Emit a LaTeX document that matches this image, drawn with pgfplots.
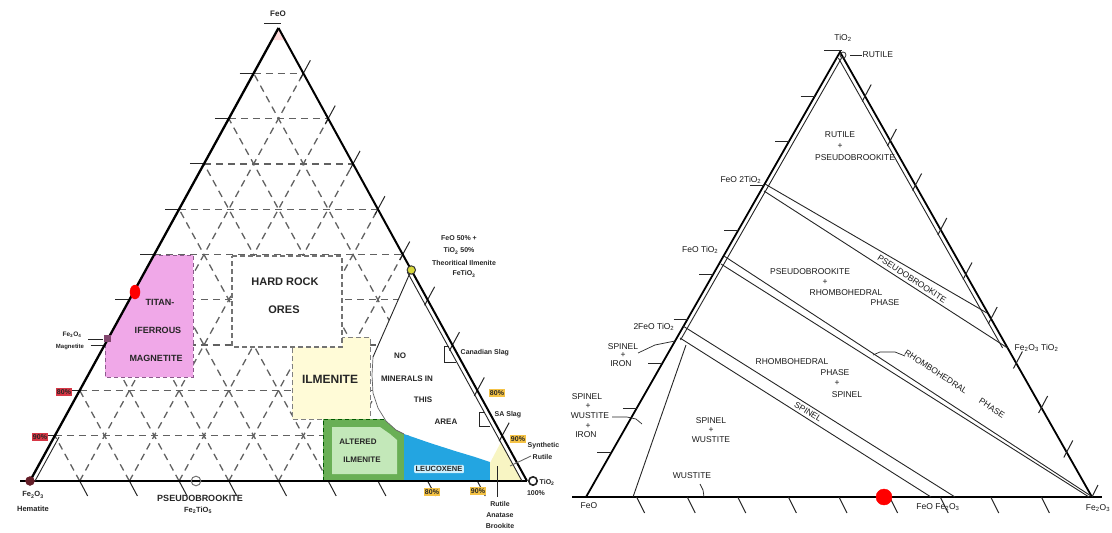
\documentclass[border=0pt]{standalone}
\usepackage{pgfplots}
\pgfplotsset{compat=1.18}
\usepackage{fontspec}
\setmainfont{Liberation Sans}
\definecolor{pinkfill}{RGB}{240,168,232}
\definecolor{pinkedge}{RGB}{140,90,140}
\definecolor{greenout}{RGB}{105,175,85}
\definecolor{greenin}{RGB}{195,232,185}
\definecolor{bluefill}{RGB}{35,165,225}
\definecolor{ilmfill}{RGB}{255,251,215}
\definecolor{synfill}{RGB}{248,245,195}
\definecolor{ylbl}{RGB}{245,195,70}
\definecolor{rlbl}{RGB}{215,55,70}
\definecolor{hemcol}{RGB}{100,30,40}
\definecolor{magcol}{RGB}{130,70,110}
\definecolor{ilmpt}{RGB}{215,215,60}
\newcommand\fs[1]{\fontsize{#1}{#1}\selectfont}
\tikzset{
  gd/.style={draw=black!62, dash pattern=on 7pt off 5pt, line width=1.3pt, mark=none},
  tk/.style={draw=black!85, line width=1pt, mark=none},
  ed/.style={draw=black, line width=2pt, mark=none},
  ln/.style={draw=black!85, line width=0.9pt, mark=none},
  bl/.style={font=\fs{7}\bfseries, text=black!85, inner sep=0.5pt},
  rl/.style={font=\fs{8.5}, text=black!90, inner sep=0.5pt},
}
\begin{document}
\begin{tikzpicture}
\begin{axis}[hide axis, scale only axis, width=1112pt, height=533pt,
  xmin=0, xmax=1112, ymin=0, ymax=533, y dir=reverse, clip=false, unbounded coords=jump]

% ---------- LEFT TRIANGLE: dashed grid ----------
\addplot[gd] coordinates {(54.85,435.7) (502.15,435.7) (nan,nan) (79.7,390.4) (477.3,390.4) (nan,nan)
 (104.55,345.1) (452.45,345.1) (nan,nan) (129.4,299.8) (427.6,299.8) (nan,nan)
 (154.25,254.5) (402.75,254.5) (nan,nan) (179.1,209.2) (377.9,209.2) (nan,nan)
 (203.95,163.9) (353.05,163.9) (nan,nan) (228.8,118.6) (328.2,118.6) (nan,nan)
 (253.65,73.3) (303.35,73.3)};
\addplot[gd] coordinates {(79.7,481) (54.85,435.7) (nan,nan) (129.4,481) (79.7,390.4) (nan,nan)
 (179.1,481) (104.55,345.1) (nan,nan) (228.8,481) (129.4,299.8) (nan,nan)
 (278.5,481) (154.25,254.5) (nan,nan) (328.2,481) (179.1,209.2) (nan,nan)
 (377.9,481) (203.95,163.9) (nan,nan) (427.6,481) (228.8,118.6) (nan,nan)
 (477.3,481) (253.65,73.3)};
\addplot[gd] coordinates {(79.7,481) (303.35,73.3) (nan,nan) (129.4,481) (328.2,118.6) (nan,nan)
 (179.1,481) (353.05,163.9) (nan,nan) (228.8,481) (377.9,209.2) (nan,nan)
 (278.5,481) (402.75,254.5) (nan,nan) (328.2,481) (427.6,299.8) (nan,nan)
 (377.9,481) (452.45,345.1) (nan,nan) (427.6,481) (477.3,390.4) (nan,nan)
 (477.3,481) (502.15,435.7)};

% ---------- coloured fields ----------
\addplot[fill=white, draw=none, mark=none] coordinates {(411.3,270) (373,357) (372,375) (373,393) (378,408) (386,421) (396,430) (404,434) (430,443) (455,451) (475,457) (490,462) (510,450) (411.3,270)};
\addplot[fill=pinkfill, draw=none, mark=none] coordinates {(105,377) (105,344) (154,255) (193,255) (193,377) (105,377)};
\addplot[draw=pinkedge, dash pattern=on 4pt off 3pt, line width=1pt, mark=none] coordinates {(105,344) (105,377) (193,377) (193,255) (154,255)};
\addplot[fill=ilmfill, draw=black!50, dash pattern=on 5pt off 3pt, line width=1pt, mark=none] coordinates {(292,337) (370,337) (370,419) (292,419) (292,337)};
\addplot[fill=white, draw=black!55, dash pattern=on 5pt off 3pt, line width=1.1pt, mark=none] coordinates {(232,256) (342,256) (342,347) (232,347) (232,256)};
\addplot[fill=greenout, draw=none, mark=none] coordinates {(323,419) (384,419) (386,421) (396,430) (404,434) (404,481) (323,481) (323,419)};
\addplot[fill=greenin, draw=none, mark=none] coordinates {(332,427) (380,427) (390,434) (397,440) (397,474) (332,474) (332,427)};
\addplot[draw=green!35!black, dash pattern=on 4pt off 3pt, line width=1pt, mark=none] coordinates {(323,481) (323,419) (384,419)};
\addplot[fill=bluefill, draw=none, mark=none] coordinates {(404,434) (430,443) (455,451) (475,457) (490,462) (490,481) (404,481) (404,434)};
\addplot[fill=synfill, draw=none, mark=none] coordinates {(490,463) (501,442) (522,481) (490,481) (490,463)};
\addplot[fill=pink!60, draw=none, mark=none] coordinates {(278.5,28) (272,40) (285,40) (278.5,28)};

% ---------- left triangle edges, ticks ----------
\addplot[tk] coordinates {(40.85,435.7) (54.85,435.7) (nan,nan) (65.7,390.4) (79.7,390.4) (nan,nan)
 (90.55,345.1) (104.55,345.1) (nan,nan) (115.4,299.8) (129.4,299.8) (nan,nan)
 (140.25,254.5) (154.25,254.5) (nan,nan) (165.1,209.2) (179.1,209.2) (nan,nan)
 (189.95,163.9) (203.95,163.9) (nan,nan) (214.8,118.6) (228.8,118.6) (nan,nan)
 (239.65,73.3) (253.65,73.3) (nan,nan) (264,23) (281,23)};
\addplot[tk] coordinates {(79.7,481) (87.7,496) (nan,nan) (129.4,481) (137.4,496) (nan,nan)
 (179.1,481) (187.1,496) (nan,nan) (228.8,481) (236.8,496) (nan,nan)
 (278.5,481) (286.5,496) (nan,nan) (328.2,481) (336.2,496) (nan,nan)
 (377.9,481) (385.9,496) (nan,nan) (427.6,481) (435.6,496) (nan,nan)
 (477.3,481) (485.3,496)};
\addplot[tk] coordinates {(300.35,78.8) (310.35,60.3) (nan,nan) (325.2,124.1) (335.2,105.6) (nan,nan)
 (350.05,169.4) (360.05,150.9) (nan,nan) (374.9,214.7) (384.9,196.2) (nan,nan)
 (399.75,260) (409.75,241.5) (nan,nan) (424.6,305.3) (434.6,286.8) (nan,nan)
 (449.45,350.6) (459.45,332.1) (nan,nan) (474.3,395.9) (484.3,377.4) (nan,nan)
 (499.15,441.2) (509.15,422.7)};
\addplot[ed, line width=2.3pt] coordinates {(30,481) (278.5,28)};
\addplot[ed] coordinates {(278.5,28) (527,481)};
\addplot[ed, line width=2.2pt] coordinates {(20,481) (527,481)};
\addplot[ln] coordinates {(35,481) (59.1,437)};
\addplot[ln] coordinates {(407.3,272) (522,481)};
\addplot[ln] coordinates {(411.3,270) (373,357)};
\addplot[draw=black!60, line width=0.7pt, mark=none] coordinates {(373,357) (372,375) (373,393) (378,408) (386,421) (396,430) (404,434)};
% slag squares and leaders
\addplot[ln] coordinates {(449,346) (444,346) (444,362) (456,362)};
\addplot[ln] coordinates {(485,412) (479,412) (479,426) (490,426)};
\addplot[ln, draw=black!60] coordinates {(531,456) (510,466)};
\addplot[ln] coordinates {(497,466) (497,497)};
\addplot[ln] coordinates {(88,339) (103,339)};

% ---------- left markers ----------
\addplot[only marks, mark=*, mark size=4.2pt, mark options={fill=ilmpt, draw=black!80, line width=1pt}] coordinates {(411.3,270)};
\addplot[only marks, mark=o, mark size=4.2pt, mark options={draw=black!85, line width=1.6pt}] coordinates {(533,481)};
\addplot[only marks, mark=o, mark size=4.8pt, mark options={draw=black!55, line width=1pt}] coordinates {(196,481)};
\addplot[only marks, mark=*, mark size=4.5pt, color=hemcol] coordinates {(30,481)};
\addplot[only marks, mark=square*, mark size=3pt, color=magcol] coordinates {(107,338)};
\addplot[only marks, mark=*, mark size=7pt, color=red, mark options={xscale=0.72}] coordinates {(135,292)};

% ---------- left labels ----------
\node[bl, font=\fs{8}\bfseries] at (axis cs:278,14) {FeO};
\node[bl] at (axis cs:459,238) {FeO 50\% +};
\node[bl] at (axis cs:459,251) {TiO\textsubscript{2} 50\%};
\node[bl] at (axis cs:464,263) {Theoritical Ilmenite};
\node[bl] at (axis cs:464,274) {FeTiO\textsubscript{3}};
\node[bl, font=\fs{11}\bfseries] at (axis cs:285,282) {HARD ROCK};
\node[bl, font=\fs{11}\bfseries] at (axis cs:284,310) {ORES};
\node[bl, font=\fs{9}\bfseries] at (axis cs:160,302) {TITAN-};
\node[bl, font=\fs{9}\bfseries] at (axis cs:158,330) {IFERROUS};
\node[bl, font=\fs{9}\bfseries] at (axis cs:156,358) {MAGNETITE};
\node[bl, font=\fs{6.5}\bfseries] at (axis cs:72,335) {Fe\textsubscript{3}O\textsubscript{4}};
\node[bl, font=\fs{6}\bfseries] at (axis cs:70,347) {Magnetite};
\node[bl, fill=rlbl, inner sep=1.2pt] at (axis cs:64,392) {80\%};
\node[bl, fill=rlbl, inner sep=1.2pt] at (axis cs:40,437) {90\%};
\node[bl, font=\fs{12}\bfseries] at (axis cs:330,379) {ILMENITE};
\node[bl, font=\fs{8}\bfseries] at (axis cs:400,356) {NO};
\node[bl, font=\fs{8}\bfseries] at (axis cs:407,379) {MINERALS IN};
\node[bl, font=\fs{8}\bfseries] at (axis cs:423,400) {THIS};
\node[bl, font=\fs{8}\bfseries] at (axis cs:446,422) {AREA};
\node[bl, anchor=west] at (axis cs:460,353) {Canadian Slag};
\node[bl, fill=ylbl, inner sep=1.2pt] at (axis cs:497,393) {80\%};
\node[bl, anchor=west] at (axis cs:494,415) {SA Slag};
\node[bl, fill=ylbl, inner sep=1.2pt] at (axis cs:518,439) {90\%};
\node[bl, anchor=west] at (axis cs:527,446) {Synthetic};
\node[bl, anchor=west] at (axis cs:532,457) {Rutile};
\node[bl, font=\fs{8}\bfseries] at (axis cs:358,442) {ALTERED};
\node[bl, font=\fs{8}\bfseries] at (axis cs:362,460) {ILMENITE};
\node[bl, font=\fs{7.5}\bfseries, fill=white!80!cyan, rounded corners=1pt, inner sep=1.5pt] at (axis cs:439,469) {LEUCOXENE};
\node[bl, anchor=west] at (axis cs:539,482) {TiO\textsubscript{2}};
\node[bl] at (axis cs:536,493) {100\%};
\node[bl, fill=ylbl, inner sep=1.2pt] at (axis cs:432,492) {80\%};
\node[bl, fill=ylbl, inner sep=1.2pt] at (axis cs:478,491) {90\%};
\node[bl] at (axis cs:500,504) {Rutile};
\node[bl] at (axis cs:500,515) {Anatase};
\node[bl] at (axis cs:500,526) {Brookite};
\node[bl, font=\fs{9}\bfseries] at (axis cs:200,498) {PSEUDOBROOKITE};
\node[bl, font=\fs{7.5}\bfseries] at (axis cs:198,510) {Fe\textsubscript{2}TiO\textsubscript{5}};
\node[bl, font=\fs{7.5}\bfseries] at (axis cs:33,495) {Fe\textsubscript{2}O\textsubscript{3}};
\node[bl, font=\fs{7.5}\bfseries] at (axis cs:33,509) {Hematite};

% ---------- RIGHT TRIANGLE ----------
\addplot[ed, line width=1.8pt] coordinates {(586,497) (840,52) (1092,497)};
\addplot[ed, line width=2.6pt] coordinates {(572,497) (1102,497)};
\addplot[ln] coordinates {(841.5,58) (680.5,340)};
\addplot[ln] coordinates {(838.4,58) (1002.6,348)};
% bands
\addplot[ln] coordinates {(765,184) (987,313)};
\addplot[ln] coordinates {(764,191) (1007.6,348)};
\addplot[ln] coordinates {(724,256) (1091,496)};
\addplot[ln] coordinates {(721,264) (1089,497)};
\addplot[ln] coordinates {(683,326) (955,497)};
\addplot[ln] coordinates {(680,338) (931,497)};
\addplot[ln] coordinates {(686,345) (633,497)};
% ticks
\addplot[tk] coordinates {(597.4,452.5) (611.4,452.5) (nan,nan) (622.8,408) (636.8,408) (nan,nan)
 (648.2,363.5) (662.2,363.5) (nan,nan) (673.6,319) (687.6,319) (nan,nan)
 (699,274.5) (713,274.5) (nan,nan) (724.4,230) (738.4,230) (nan,nan)
 (749.8,185.5) (763.8,185.5) (nan,nan) (775.2,141) (789.2,141) (nan,nan)
 (800.6,96.5) (814.6,96.5) (nan,nan) (824,50) (842,50)};
\addplot[tk] coordinates {(1063.8,457.5) (1072.8,440.5) (nan,nan) (1038.6,413) (1047.6,396) (nan,nan)
 (1013.4,368.5) (1022.4,351.5) (nan,nan) (988.2,324) (997.2,307) (nan,nan)
 (963,279.5) (972,262.5) (nan,nan) (937.8,235) (946.8,218) (nan,nan)
 (912.6,190.5) (921.6,173.5) (nan,nan) (887.4,146) (896.4,129) (nan,nan)
 (862.2,101.5) (871.2,84.5) (nan,nan) (1092,497) (1098,485)};
\addplot[tk] coordinates {(636.6,497) (644.6,513) (nan,nan) (687.2,497) (695.2,513) (nan,nan)
 (737.8,497) (745.8,513) (nan,nan) (788.4,497) (796.4,513) (nan,nan)
 (839,497) (847,513) (nan,nan) (889.6,497) (897.6,513) (nan,nan)
 (940.2,497) (948.2,513) (nan,nan) (990.8,497) (998.8,513) (nan,nan)
 (1041.4,497) (1049.4,513)};
% leaders
\addplot[ln, line width=0.7pt] coordinates {(850,55) (862,55)};
\addplot[ln, line width=0.7pt] coordinates {(638,353) (655,345) (675,341)};
\addplot[ln, line width=0.7pt] coordinates {(612,417) (627,417) (636,419) (642,424)};
\addplot[ln, line width=0.7pt] coordinates {(700,484) (703,490) (704,497)};
\addplot[ln, line width=0.7pt] coordinates {(873,355) (880,352) (895,352) (905,356)};
\addplot[only marks, mark=o, mark size=3pt, mark options={draw=black!80, line width=0.8pt}] coordinates {(843,55)};
\addplot[only marks, mark=*, mark size=8pt, color=red] coordinates {(884,497)};

% right labels
\node[rl] at (axis cs:843,38) {TiO\textsubscript{2}};
\node[rl, anchor=west] at (axis cs:862,55) {RUTILE};
\node[rl] at (axis cs:840,135) {RUTILE};
\node[rl] at (axis cs:840,146) {+};
\node[rl] at (axis cs:855,158) {PSEUDOBROOKITE};
\node[rl, anchor=east] at (axis cs:762,180) {FeO 2TiO\textsubscript{2}};
\node[rl, anchor=east] at (axis cs:719,250) {FeO TiO\textsubscript{2}};
\node[rl] at (axis cs:810,272) {PSEUDOBROOKITE};
\node[rl] at (axis cs:825,282) {+};
\node[rl] at (axis cs:846,293) {RHOMBOHEDRAL};
\node[rl] at (axis cs:885,303) {PHASE};
\node[rl, rotate=-33] at (axis cs:912,279) {PSEUDOBROOKITE};
\node[rl, anchor=east] at (axis cs:675,327) {2FeO TiO\textsubscript{2}};
\node[rl] at (axis cs:623,347) {SPINEL};
\node[rl] at (axis cs:623,355) {+};
\node[rl] at (axis cs:621,364) {IRON};
\node[rl] at (axis cs:792,362) {RHOMBOHEDRAL};
\node[rl] at (axis cs:835,373) {PHASE};
\node[rl] at (axis cs:837,383) {+};
\node[rl] at (axis cs:847,395) {SPINEL};
\node[rl, rotate=-33] at (axis cs:936,372) {RHOMBOHEDRAL};
\node[rl, rotate=-33] at (axis cs:992,408) {PHASE};
\node[rl, rotate=-32] at (axis cs:808,412) {SPINEL};
\node[rl] at (axis cs:587,397) {SPINEL};
\node[rl] at (axis cs:588,406) {+};
\node[rl] at (axis cs:590,416) {WUSTITE};
\node[rl] at (axis cs:588,426) {+};
\node[rl] at (axis cs:586,435) {IRON};
\node[rl] at (axis cs:711,421) {SPINEL};
\node[rl] at (axis cs:711,430) {+};
\node[rl] at (axis cs:711,440) {WUSTITE};
\node[rl] at (axis cs:692,476) {WUSTITE};
\node[rl] at (axis cs:589,506) {FeO};
\node[rl] at (axis cs:938,507) {FeO Fe\textsubscript{2}O\textsubscript{3}};
\node[rl, anchor=west] at (axis cs:1014,348) {Fe\textsubscript{2}O\textsubscript{3} TiO\textsubscript{2}};
\node[rl] at (axis cs:1098,508) {Fe\textsubscript{2}O\textsubscript{3}};
\end{axis}
\pgfresetboundingbox
\path (current axis.south west) rectangle (current axis.north east);
\end{tikzpicture}
\end{document}
